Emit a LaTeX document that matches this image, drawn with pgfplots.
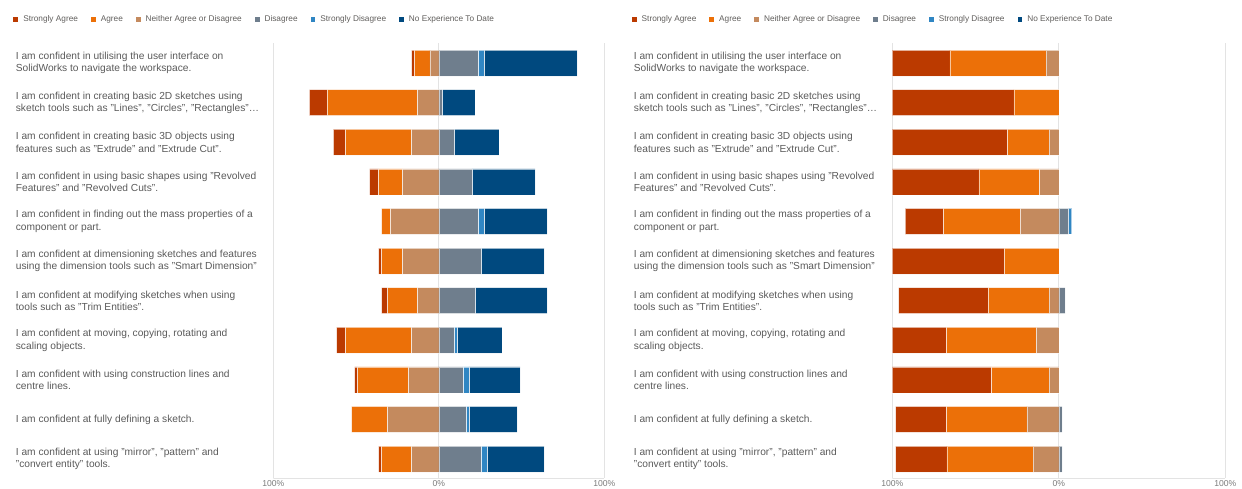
\documentclass[border=0pt]{standalone}
\usepackage{fontspec}
\setmainfont{Liberation Sans}
\usepackage{pgfplots}
\usepackage{pgfplotstable}
\pgfplotsset{compat=1.18}
\definecolor{cSA}{HTML}{BB3A00}
\definecolor{cA}{HTML}{EC7008}
\definecolor{cN}{HTML}{C48A5E}
\definecolor{cD}{HTML}{6F7E8D}
\definecolor{cSD}{HTML}{3086C3}
\definecolor{cNE}{HTML}{00497F}
\definecolor{txt}{HTML}{5A5A5A}
\definecolor{legtxt}{HTML}{605E5C}
\definecolor{gridc}{HTML}{E3E3E3}

% left side values stored negative (Neither, Agree, Strongly Agree), right side positive
\pgfplotstableread{
row nN nA nSA D SD NE
1 -5.45 -9.09 -1.82 23.64 3.64 56.36
2 -12.73 -54.55 -10.91 1.82 0 20
3 -16.36 -40 -7.27 9.09 0 27.27
4 -21.82 -14.55 -5.45 20 0 38.18
5 -29.09 -5.45 0 23.64 3.64 38.18
6 -21.82 -12.73 -1.82 25.45 0 38.18
7 -12.73 -18.18 -3.64 21.82 0 43.64
8 -16.36 -40 -5.45 9.09 1.82 27.27
9 -18.18 -30.91 -1.82 14.55 3.64 30.91
10 -30.91 -21.82 0 16.36 1.82 29.09
11 -16.36 -18.18 -1.82 25.45 3.64 34.55
}\before

\pgfplotstableread{
row nN nA nSA D SD NE
1 -7.69 -57.69 -34.62 0 0 0
2 0 -26.92 -73.08 0 0 0
3 -5.77 -25 -69.23 0 0 0
4 -11.54 -36.54 -51.92 0 0 0
5 -23.08 -46.15 -23.08 5.77 1.92 0
6 0 -32.69 -67.31 0 0 0
7 -5.77 -36.54 -53.85 3.85 0 0
8 -13.46 -53.85 -32.69 0 0 0
9 -5.77 -34.62 -59.62 0 0 0
10 -19.23 -48.08 -30.77 1.92 0 0
11 -15.38 -51.92 -30.77 1.92 0 0
}\after

\pgfplotsset{
  likertbase/.style={
    scale only axis, anchor=south west,
    xbar stacked, bar width=26pt,
    xmin=-100, xmax=100, ymin=0.495, ymax=11.48,
    y dir=reverse, enlargelimits=false,
    height=435pt,
    ytick={1,2,3,4,5,6,7,8,9,10,11}, xtick={-100,0,100},
  },
  likertmain/.style={
    likertbase,
    xticklabels={100\%,0\%,100\%},
    xmajorgrids, grid style={gridc, line width=1pt},
    major tick length=0pt,
    axis line style={draw=none},
    xticklabel style={font=\fontsize{8.6}{10}\selectfont, text=txt!80, inner sep=0pt, yshift=-2.6pt},
    yticklabel style={anchor=west, align=left, inner sep=0pt,
      font=\fontsize{10.2}{12.4}\selectfont, text=txt},
    yticklabels={
      {I am confident in utilising the user interface on\\SolidWorks to navigate the workspace.},
      {I am confident in creating basic 2D sketches using\\sketch tools such as "Lines", "Circles", "Rectangles"\ldots},
      {I am confident in creating basic 3D objects using\\features such as "Extrude" and "Extrude Cut".},
      {I am confident in using basic shapes using "Revolved\\Features" and "Revolved Cuts".},
      {I am confident in finding out the mass properties of a\\component or part.},
      {I am confident at dimensioning sketches and features\\using the dimension tools such as "Smart Dimension"},
      {I am confident at modifying sketches when using\\tools such as "Trim Entities".},
      {I am confident at moving, copying, rotating and\\scaling objects.},
      {I am confident with using construction lines and\\centre lines.},
      {I am confident at fully defining a sketch.},
      {I am confident at using "mirror", "pattern" and\\"convert entity" tools.}
    },
    legend columns=6,
    legend image code/.code={\fill[##1, draw=none] (0pt,-2.4pt) rectangle (4.8pt,2.4pt);},
  },
  legstyle/.style={legend style={at={(#1,1.0545)}, anchor=west, draw=none, fill=none,
      font=\fontsize{8.27}{10}\selectfont, text=legtxt, inner sep=0pt,
      nodes={inner sep=0pt},
      /tikz/every odd column/.append style={column sep=5pt},
      /tikz/every even column/.append style={column sep=13pt}}},
  seg/.style={fill=#1, draw=white, draw opacity=0.6, line width=0.5pt},
}

\begin{document}
\begin{tikzpicture}
% ---------- left chart ----------
\begin{axis}[likertmain, at={(273.3pt,-478pt)}, width=331pt,
  yticklabel style={xshift=-257.6pt}, legstyle=-0.7855]
  \addlegendimage{fill=cSA}\addlegendentry{Strongly Agree}
  \addlegendimage{fill=cA}\addlegendentry{Agree}
  \addlegendimage{fill=cN}\addlegendentry{Neither Agree or Disagree}
  \addlegendimage{fill=cD}\addlegendentry{Disagree}
  \addlegendimage{fill=cSD}\addlegendentry{Strongly Disagree}
  \addlegendimage{fill=cNE}\addlegendentry{No Experience To Date}
  \addplot[seg=cN, forget plot] table[x=nN, y=row]{\before};
  \addplot[seg=cA, forget plot] table[x=nA, y=row]{\before};
  \addplot[seg=cSA, forget plot] table[x=nSA, y=row]{\before};
  \draw[gridc, line width=1pt] (axis description cs:0,0) -- (axis description cs:1,0);
\end{axis}
\begin{axis}[likertbase, hide axis, at={(273.3pt,-478pt)}, width=331pt]
  \addplot[seg=cD] table[x=D, y=row]{\before};
  \addplot[seg=cSD] table[x=SD, y=row]{\before};
  \addplot[seg=cNE] table[x=NE, y=row]{\before};
\end{axis}
% ---------- right chart ----------
\begin{axis}[likertmain, at={(892.3pt,-478pt)}, width=333pt,
  yticklabel style={xshift=-258.6pt}, legstyle=-0.7826]
  \addlegendimage{fill=cSA}\addlegendentry{Strongly Agree}
  \addlegendimage{fill=cA}\addlegendentry{Agree}
  \addlegendimage{fill=cN}\addlegendentry{Neither Agree or Disagree}
  \addlegendimage{fill=cD}\addlegendentry{Disagree}
  \addlegendimage{fill=cSD}\addlegendentry{Strongly Disagree}
  \addlegendimage{fill=cNE}\addlegendentry{No Experience To Date}
  \addplot[seg=cN, forget plot] table[x=nN, y=row]{\after};
  \addplot[seg=cA, forget plot] table[x=nA, y=row]{\after};
  \addplot[seg=cSA, forget plot] table[x=nSA, y=row]{\after};
  \draw[gridc, line width=1pt] (axis description cs:0,0) -- (axis description cs:1,0);
\end{axis}
\begin{axis}[likertbase, hide axis, at={(892.3pt,-478pt)}, width=333pt]
  \addplot[seg=cD] table[x=D, y=row]{\after};
  \addplot[seg=cSD] table[x=SD, y=row]{\after};
  \addplot[seg=cNE] table[x=NE, y=row]{\after};
\end{axis}
\pgfresetboundingbox
\useasboundingbox (0pt,0pt) rectangle (1242pt,-488pt);
\end{tikzpicture}
\end{document}
